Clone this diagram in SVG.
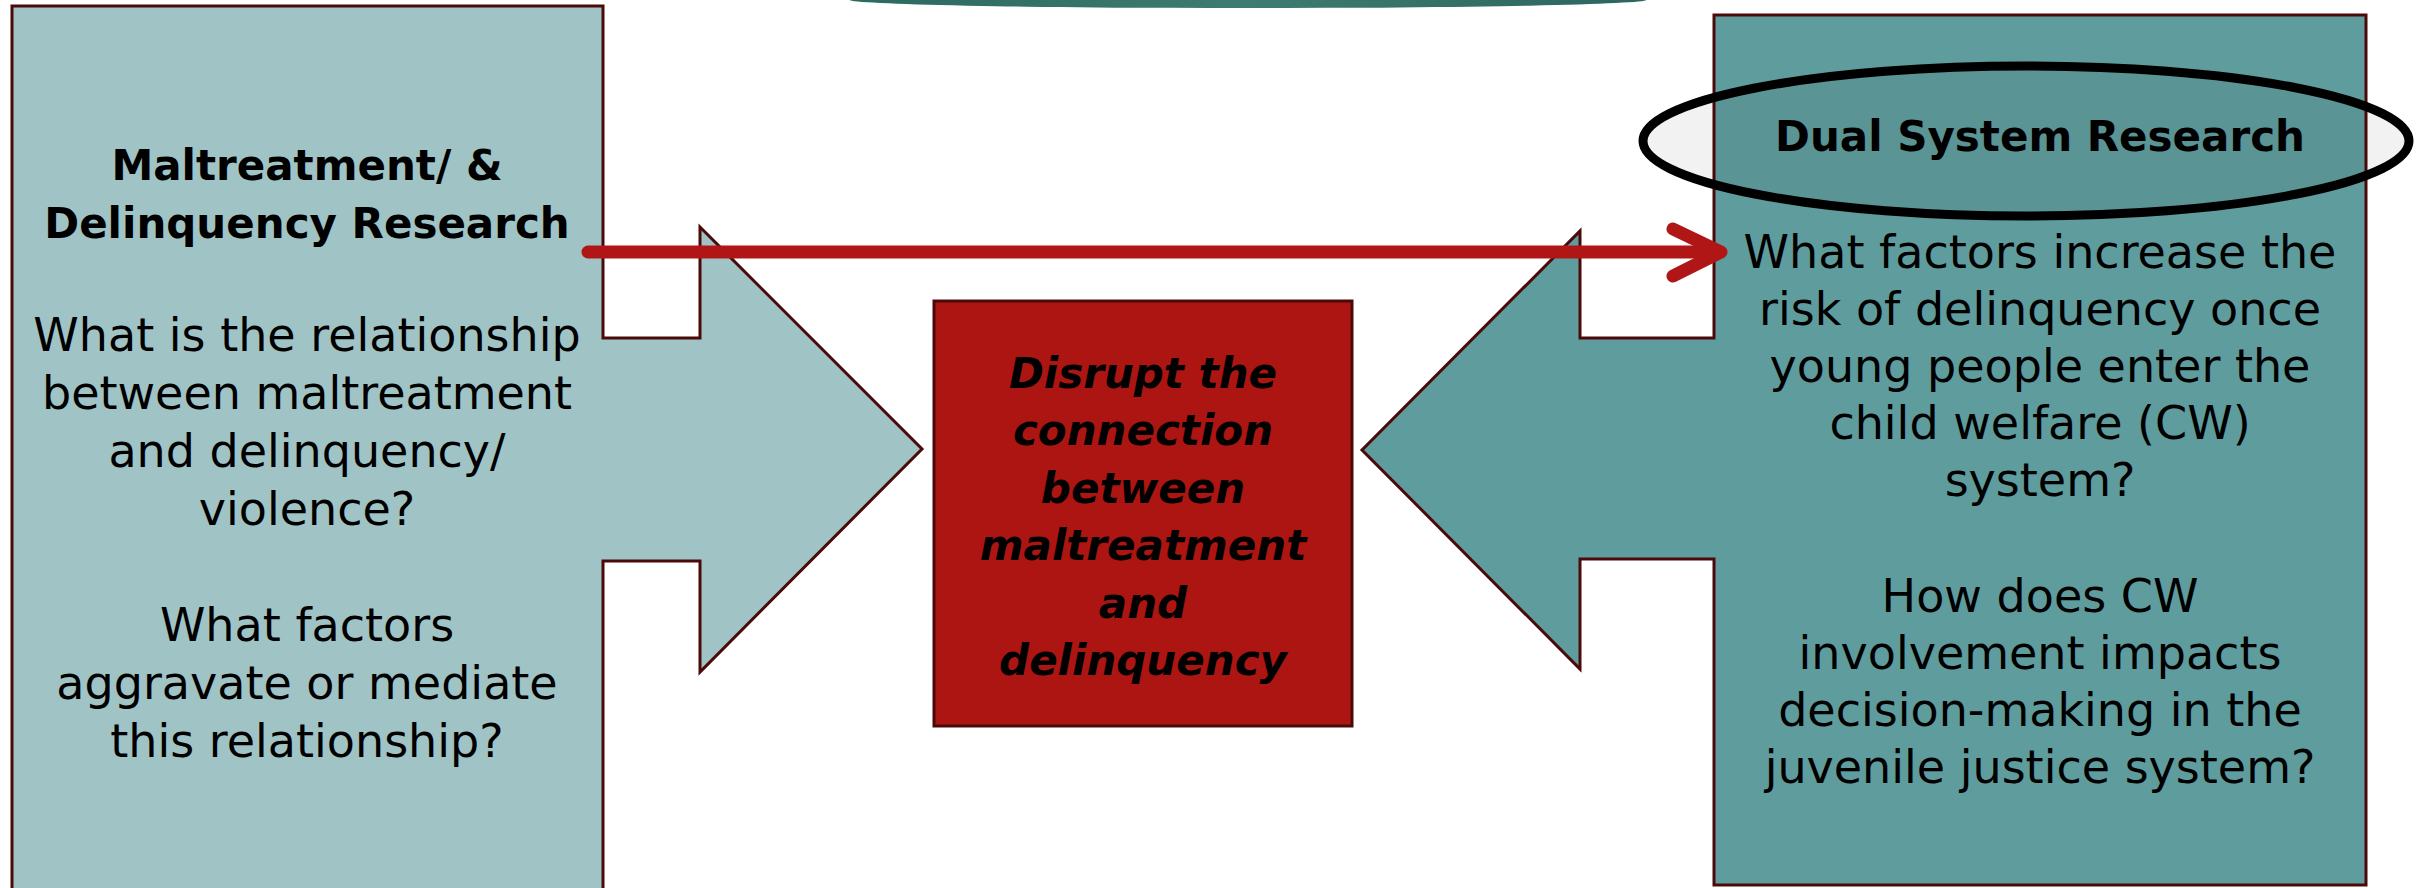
<svg xmlns="http://www.w3.org/2000/svg" width="2417" height="888" viewBox="0 0 2417 888">
  <defs>
    <linearGradient id="topGrad" x1="0" y1="0" x2="1" y2="0">
      <stop offset="0" stop-color="#2b6a5f"/>
      <stop offset="0.5" stop-color="#3e7b70"/>
      <stop offset="1" stop-color="#2c665e"/>
    </linearGradient>
  </defs>
  <style>
    .shape { stroke: #4a0a0a; stroke-width: 3; stroke-linejoin: miter; }
    .txt { font-family: "DejaVu Sans", "Liberation Sans", sans-serif; font-size: 46px; fill: #000; text-anchor: middle; }
    .head { font-family: "DejaVu Sans", "Liberation Sans", sans-serif; font-size: 42px; font-weight: bold; fill: #000; text-anchor: middle; }
    .mid { font-family: "DejaVu Sans", "Liberation Sans", sans-serif; font-size: 42px; font-weight: bold; font-style: italic; fill: #000; text-anchor: middle; }
    .conn { fill: none; stroke: #b01616; stroke-width: 13; stroke-linecap: round; stroke-linejoin: round; }
  </style>
  <rect width="2417" height="888" fill="#ffffff"/>

  <g id="top-shape">
    <ellipse cx="1248" cy="0" rx="398" ry="8" fill="url(#topGrad)"/>
  </g>

  <g id="node-left">
    <path class="shape" fill="#a0c4c6" d="M12,6 L603,6 L603,338 L700,338 L700,227 L922,449 L700,672 L700,561 L603,561 L603,895 L12,895 Z"/>
    <text class="head" x="307" y="180">Maltreatment/ &amp;</text>
    <text class="head" x="307" y="238">Delinquency Research</text>
    <text class="txt" x="307" y="351">What is the relationship</text>
    <text class="txt" x="307" y="409">between maltreatment</text>
    <text class="txt" x="307" y="467">and delinquency/</text>
    <text class="txt" x="307" y="525">violence?</text>
    <text class="txt" x="307" y="641">What factors</text>
    <text class="txt" x="307" y="699">aggravate or mediate</text>
    <text class="txt" x="307" y="757">this relationship?</text>
  </g>

  <g id="node-right">
    <path class="shape" fill="#5f9c9d" d="M1714,15 L2366,15 L2366,885 L1714,885 L1714,559 L1580,559 L1580,669 L1362,450 L1580,231 L1580,338 L1714,338 Z"/>
  </g>

  <g id="node-center">
    <rect class="shape" x="934" y="301" width="418" height="425" fill="#ad1513"/>
    <text class="mid" x="1143" y="388">Disrupt the</text>
    <text class="mid" x="1143" y="445">connection</text>
    <text class="mid" x="1143" y="503">between</text>
    <text class="mid" x="1143" y="560">maltreatment</text>
    <text class="mid" x="1143" y="618">and</text>
    <text class="mid" x="1143" y="675">delinquency</text>
  </g>

  <g id="node-dual">
    <ellipse cx="2026" cy="141" rx="383" ry="75" fill="#000000" fill-opacity="0.05" stroke="#000000" stroke-width="9"/>
    <text class="head" x="2040" y="151">Dual System Research</text>
    <text class="txt" x="2040" y="268">What factors increase the</text>
    <text class="txt" x="2040" y="325">risk of delinquency once</text>
    <text class="txt" x="2040" y="382">young people enter the</text>
    <text class="txt" x="2040" y="439">child welfare (CW)</text>
    <text class="txt" x="2040" y="496">system?</text>
    <text class="txt" x="2040" y="612">How does CW</text>
    <text class="txt" x="2040" y="669">involvement impacts</text>
    <text class="txt" x="2040" y="726">decision-making in the</text>
    <text class="txt" x="2040" y="783">juvenile justice system?</text>
  </g>

  <g id="connectors">
    <path class="conn" d="M588,252 L1718,252"/>
    <path class="conn" d="M1673,229 L1721,252 L1673,276"/>
  </g>
</svg>
